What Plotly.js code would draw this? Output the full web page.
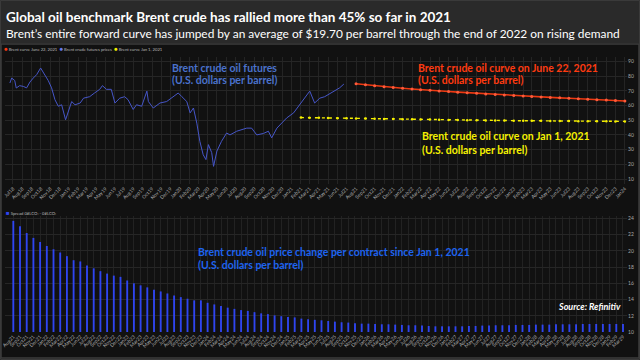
<!DOCTYPE html>
<html><head><meta charset="utf-8">
<script src="https://cdn.plot.ly/plotly-3.0.1.min.js"></script>
<style>html,body{margin:0;padding:0;background:#1b1b1b;}#c{width:640px;height:360px;}</style>
</head><body><div id="c"></div>
<script>
// ---- Data ----
const futuresDates = ['2018-06-21','2018-06-27','2018-07-07','2018-07-12','2018-07-23','2018-08-04','2018-08-15','2018-08-26','2018-09-06','2018-09-17','2018-09-30','2018-10-08','2018-10-25','2018-11-05','2018-11-16','2018-11-27','2018-12-08','2018-12-21','2018-12-30','2019-01-10','2019-01-21','2019-02-07','2019-02-18','2019-03-10','2019-03-26','2019-04-12','2019-04-21','2019-05-04','2019-05-20','2019-06-01','2019-06-17','2019-07-03','2019-07-14','2019-07-31','2019-08-11','2019-08-28','2019-09-14','2019-09-19','2019-10-05','2019-10-27','2019-11-18','2019-12-10','2019-12-26','2020-01-07','2020-01-23','2020-02-03','2020-02-14','2020-02-25','2020-03-06','2020-03-17','2020-03-26','2020-04-03','2020-04-14','2020-04-20','2020-05-01','2020-05-16','2020-06-02','2020-06-13','2020-07-05','2020-08-07','2020-08-23','2020-09-09','2020-10-01','2020-10-17','2020-10-28','2020-11-14','2020-11-30','2020-12-16','2021-01-08','2021-01-24','2021-02-10','2021-03-02','2021-03-18','2021-04-04','2021-04-20','2021-05-07','2021-05-23','2021-06-08','2021-06-22'];
const futuresPrices = [75.3,78.7,77,71.9,73.5,73,72,76,78.7,81,85.5,83,77,72,64,59.5,60.5,50.3,56,62.7,60.5,61.7,65,66,68.5,71,73.5,71,71,61.7,65,66,64,57.3,60.5,59.5,69.8,62.7,58.3,61.7,62.7,66,68.5,66,62.7,55,58.3,48,35.6,26.5,23.2,33.4,27.9,18.6,29,35.6,41.3,40,42.5,44.6,44.6,40,41,42.5,38,44.6,48,51.5,55,59.5,65,69.8,61.7,65,66,68,69.8,72,74.6];

const curveJun22Dates = ['2021-08-01','2021-09-01','2021-10-01','2021-11-01','2021-12-01','2022-01-01','2022-02-01','2022-03-01','2022-04-01','2022-05-01','2022-06-01','2022-07-01','2022-08-01','2022-09-01','2022-10-01','2022-11-01','2022-12-01','2023-01-01','2023-02-01','2023-03-01','2023-04-01','2023-05-01','2023-06-01','2023-07-01','2023-08-01','2023-09-01','2023-10-01','2023-11-01','2023-12-01','2024-01-01'];
const curveJun22Prices = [74.8,74.1,73.4,72.8,72.2,71.7,71.2,70.7,70.3,69.9,69.5,69.1,68.7,68.3,67.9,67.5,67.2,66.8,66.5,66.1,65.8,65.5,65.2,64.9,64.6,64.3,64.0,63.7,63.4,63.1];

const curveJan1Dates = ['2021-02-01','2021-03-01','2021-04-01','2021-05-01','2021-06-01','2021-07-01','2021-08-01','2021-09-01','2021-10-01','2021-11-01','2021-12-01','2022-01-01','2022-02-01','2022-03-01','2022-04-01','2022-05-01','2022-06-01','2022-07-01','2022-08-01','2022-09-01','2022-10-01','2022-11-01','2022-12-01','2023-01-01','2023-02-01','2023-03-01','2023-04-01','2023-05-01','2023-06-01','2023-07-01','2023-08-01','2023-09-01','2023-10-01','2023-11-01','2023-12-01','2024-01-01'];
const curveJan1Prices = [51.8,51.7,51.6,51.5,51.4,51.3,51.2,51.1,51.0,50.9,50.8,50.7,50.6,50.5,50.4,50.3,50.2,50.1,50.0,49.9,49.85,49.8,49.75,49.7,49.65,49.6,49.55,49.5,49.45,49.4,49.35,49.3,49.3,49.25,49.2,49.2];

const contracts = ['Aug21','Sep21','Oct21','Nov21','Dec21',
'Jan22','Feb22','Mar22','Apr22','May22','Jun22','Jul22','Aug22','Sep22','Oct22','Nov22','Dec22',
'Jan23','Feb23','Mar23','Apr23','May23','Jun23','Jul23','Aug23','Sep23','Oct23','Nov23','Dec23',
'Jan24','Feb24','Mar24','Apr24','May24','Jun24','Jul24','Aug24','Sep24','Oct24','Nov24','Dec24',
'Jan25','Feb25','Mar25','Apr25','May25','Jun25','Jul25','Aug25','Sep25','Oct25','Nov25','Dec25',
'Jan26','Feb26','Mar26','Apr26','May26','Jun26','Jul26','Aug26','Sep26','Oct26','Nov26','Dec26',
'Jan27','Feb27','Mar27','Apr27','May27','Jun27','Jul27','Aug27','Sep27','Oct27','Nov27','Dec27',
'Jan28','Feb28','Mar28','Apr28','May28','Jun28','Jul28','Aug28','Sep28','Oct28','Nov28','Dec28',
'Jan29','Feb29','Mar29'];
const spreadValues = [23.7,23.05,22.2,21.6,21.1,20.6,20.2,19.8,19.35,18.85,18.7,18.2,17.85,17.5,17.2,16.95,16.8,16.35,16.0,15.75,15.5,15.2,15.0,14.75,14.5,14.3,14.1,13.9,13.9,13.6,13.4,13.2,13.0,12.85,12.7,12.6,12.45,12.3,12.2,12.05,11.95,11.85,11.8,11.65,11.57,11.5,11.44,11.36,11.28,11.2,11.16,11.07,11.03,11.03,10.99,10.95,10.95,10.91,10.87,10.83,10.83,10.79,10.74,10.7,10.7,10.7,10.7,10.7,10.74,10.74,10.79,10.79,10.83,10.83,10.83,10.87,10.87,10.87,10.91,10.91,10.91,10.95,10.95,10.95,10.95,10.99,10.99,10.99,10.99,10.99,10.99,10.99];

// ---- helpers (layout only) ----
const W = 640, H = 360;
const px = x => x / W;
const py = y => 1 - y / H;
const FONT = 'Lato, "Open Sans", sans-serif';

const traces = [
  {x: futuresDates, y: futuresPrices, type: 'scatter', mode: 'lines', xaxis: 'x', yaxis: 'y',
   line: {color: '#4656c8', width: 1}, showlegend: false, hoverinfo: 'skip'},
  {x: curveJun22Dates, y: curveJun22Prices, type: 'scatter', mode: 'lines+markers', xaxis: 'x', yaxis: 'y',
   line: {color: '#ee3a12', width: 1.6}, marker: {color: '#ff5a3a', size: 3}, showlegend: false},
  {x: curveJan1Dates, y: curveJan1Prices, type: 'scatter', mode: 'lines+markers', xaxis: 'x', yaxis: 'y',
   line: {color: '#f5f000', width: 1.4, dash: '3px,4px'}, marker: {color: '#f5f000', size: 2.5}, showlegend: false},
  {x: contracts, y: spreadValues, type: 'bar', xaxis: 'x2', yaxis: 'y2', width: 0.28,
   marker: {color: '#2f45f0', line: {width: 0}}, showlegend: false}
];

const ann = (text, x, y, color, size, extra) => Object.assign({
  text, x: px(x), y: py(y), xref: 'paper', yref: 'paper', xanchor: 'left', yanchor: 'middle',
  showarrow: false, borderpad: 0, font: {family: FONT, size, color}
}, extra || {});

const legendTop = '<span style="color:#ff3a10;font-size:6px">●</span> Brent curve June 22, 2021  ' +
  '<span style="color:#6a7cf0;font-size:6px">●</span> Brent crude futures prices  ' +
  '<span style="color:#f5f000;font-size:6px">●</span> Brent curve Jan 1, 2021';

const annotations = [
  ann('<b>Global oil benchmark Brent crude has rallied more than 45% so far in 2021</b>', 5, 17, '#ffffff', 13.5),
  ann('Brent’s entire forward curve has jumped by an average of $19.70 per barrel through the end of 2022 on rising demand', 5, 33, '#ffffff', 11.9),
  ann(legendTop, 3, 49, '#bbbbbb', 4.2),
  ann('<span style="color:#2f45f0;font-size:6px">■</span> Spread 0#LCO: - 0#LCO:', 5, 212, '#bbbbbb', 4.2),
  // chart labels
  ann('<b>Brent crude oil futures</b>', 171, 68, '#4a72cc', 10.5),
  ann('<b>(U.S. dollars per barrel)</b>', 171, 80, '#4a72cc', 10.5),
  ann('<b>Brent crude oil curve on June 22, 2021</b>', 417, 68, '#ff3a10', 10.5),
  ann('<b>(U.S. dollars per barrel)</b>', 417, 80, '#ff3a10', 10.5),
  ann('<b>Brent crude oil curve on Jan 1, 2021</b>', 421, 136, '#f5f000', 10.5),
  ann('<b>(U.S. dollars per barrel)</b>', 421, 150, '#f5f000', 10.5),
  ann('<b>Brent crude oil price change per contract since Jan 1, 2021</b>', 197, 252, '#1e64f0', 10.5),
  ann('<b>(U.S. dollars per barrel)</b>', 197, 265, '#1e64f0', 10.5),
  ann('<b><i>Source: Refinitiv</i></b>', 622, 306, '#ffffff', 9, {xanchor: 'right'})
];

const shapes = [
  {type: 'rect', xref: 'paper', yref: 'paper', x0: 0, x1: 1, y0: py(43), y1: 1, fillcolor: '#2a2a2a', line: {width: 0}, layer: 'below'},
  {type: 'rect', xref: 'paper', yref: 'paper', x0: px(1), x1: px(639), y0: py(44), y1: py(358), fillcolor: 'rgba(0,0,0,0)', line: {color: '#3c3c3c', width: 1.5}, layer: 'below'},
  {type: 'rect', xref: 'paper', yref: 'paper', x0: px(0.5), x1: px(639.5), y0: py(359.5), y1: py(0.5), fillcolor: 'rgba(0,0,0,0)', line: {color: '#3a3a3a', width: 1}, layer: 'below'}
];

const tickFont = {family: FONT, size: 5, color: '#a8a8a8'};
const layout = {
  width: W, height: H, margin: {l: 0, r: 0, t: 0, b: 0},
  paper_bgcolor: '#111111', plot_bgcolor: '#111111',
  font: {family: FONT, color: '#cccccc'},
  xaxis: {type: 'date', domain: [px(5), px(627)], range: ['2018-06-05', '2024-01-08'],
    tick0: '2018-07-01', dtick: 'M1', tickformat: '%b%y', tickangle: -45, tickfont: tickFont,
    showgrid: true, gridcolor: '#242424', gridwidth: 1, zeroline: false, showline: false, ticks: '', anchor: 'y'},
  yaxis: {domain: [py(184), py(57)], range: [6.6, 93], side: 'right', dtick: 10, tick0: 0,
    tickfont: tickFont, showgrid: true, gridcolor: '#262626', zeroline: false, showline: false, anchor: 'x', ticks: ''},
  xaxis2: {type: 'category', domain: [px(5), px(627)], range: [-1.24, 91.6], tickmode: 'linear', tick0: 0, dtick: 1,
    tickangle: -45, tickfont: tickFont, showgrid: true, gridcolor: '#222222', zeroline: false, showline: false, ticks: '', anchor: 'y2'},
  yaxis2: {domain: [py(332), py(216)], range: [10, 24.3], side: 'right', dtick: 2, tick0: 0,
    tickfont: tickFont, showgrid: true, gridcolor: '#262626', zeroline: false, showline: false, anchor: 'x2', ticks: ''},
  annotations, shapes, bargap: 0.7
};

Plotly.newPlot('c', traces, layout, {staticPlot: true, displayModeBar: false});
</script></body></html>
